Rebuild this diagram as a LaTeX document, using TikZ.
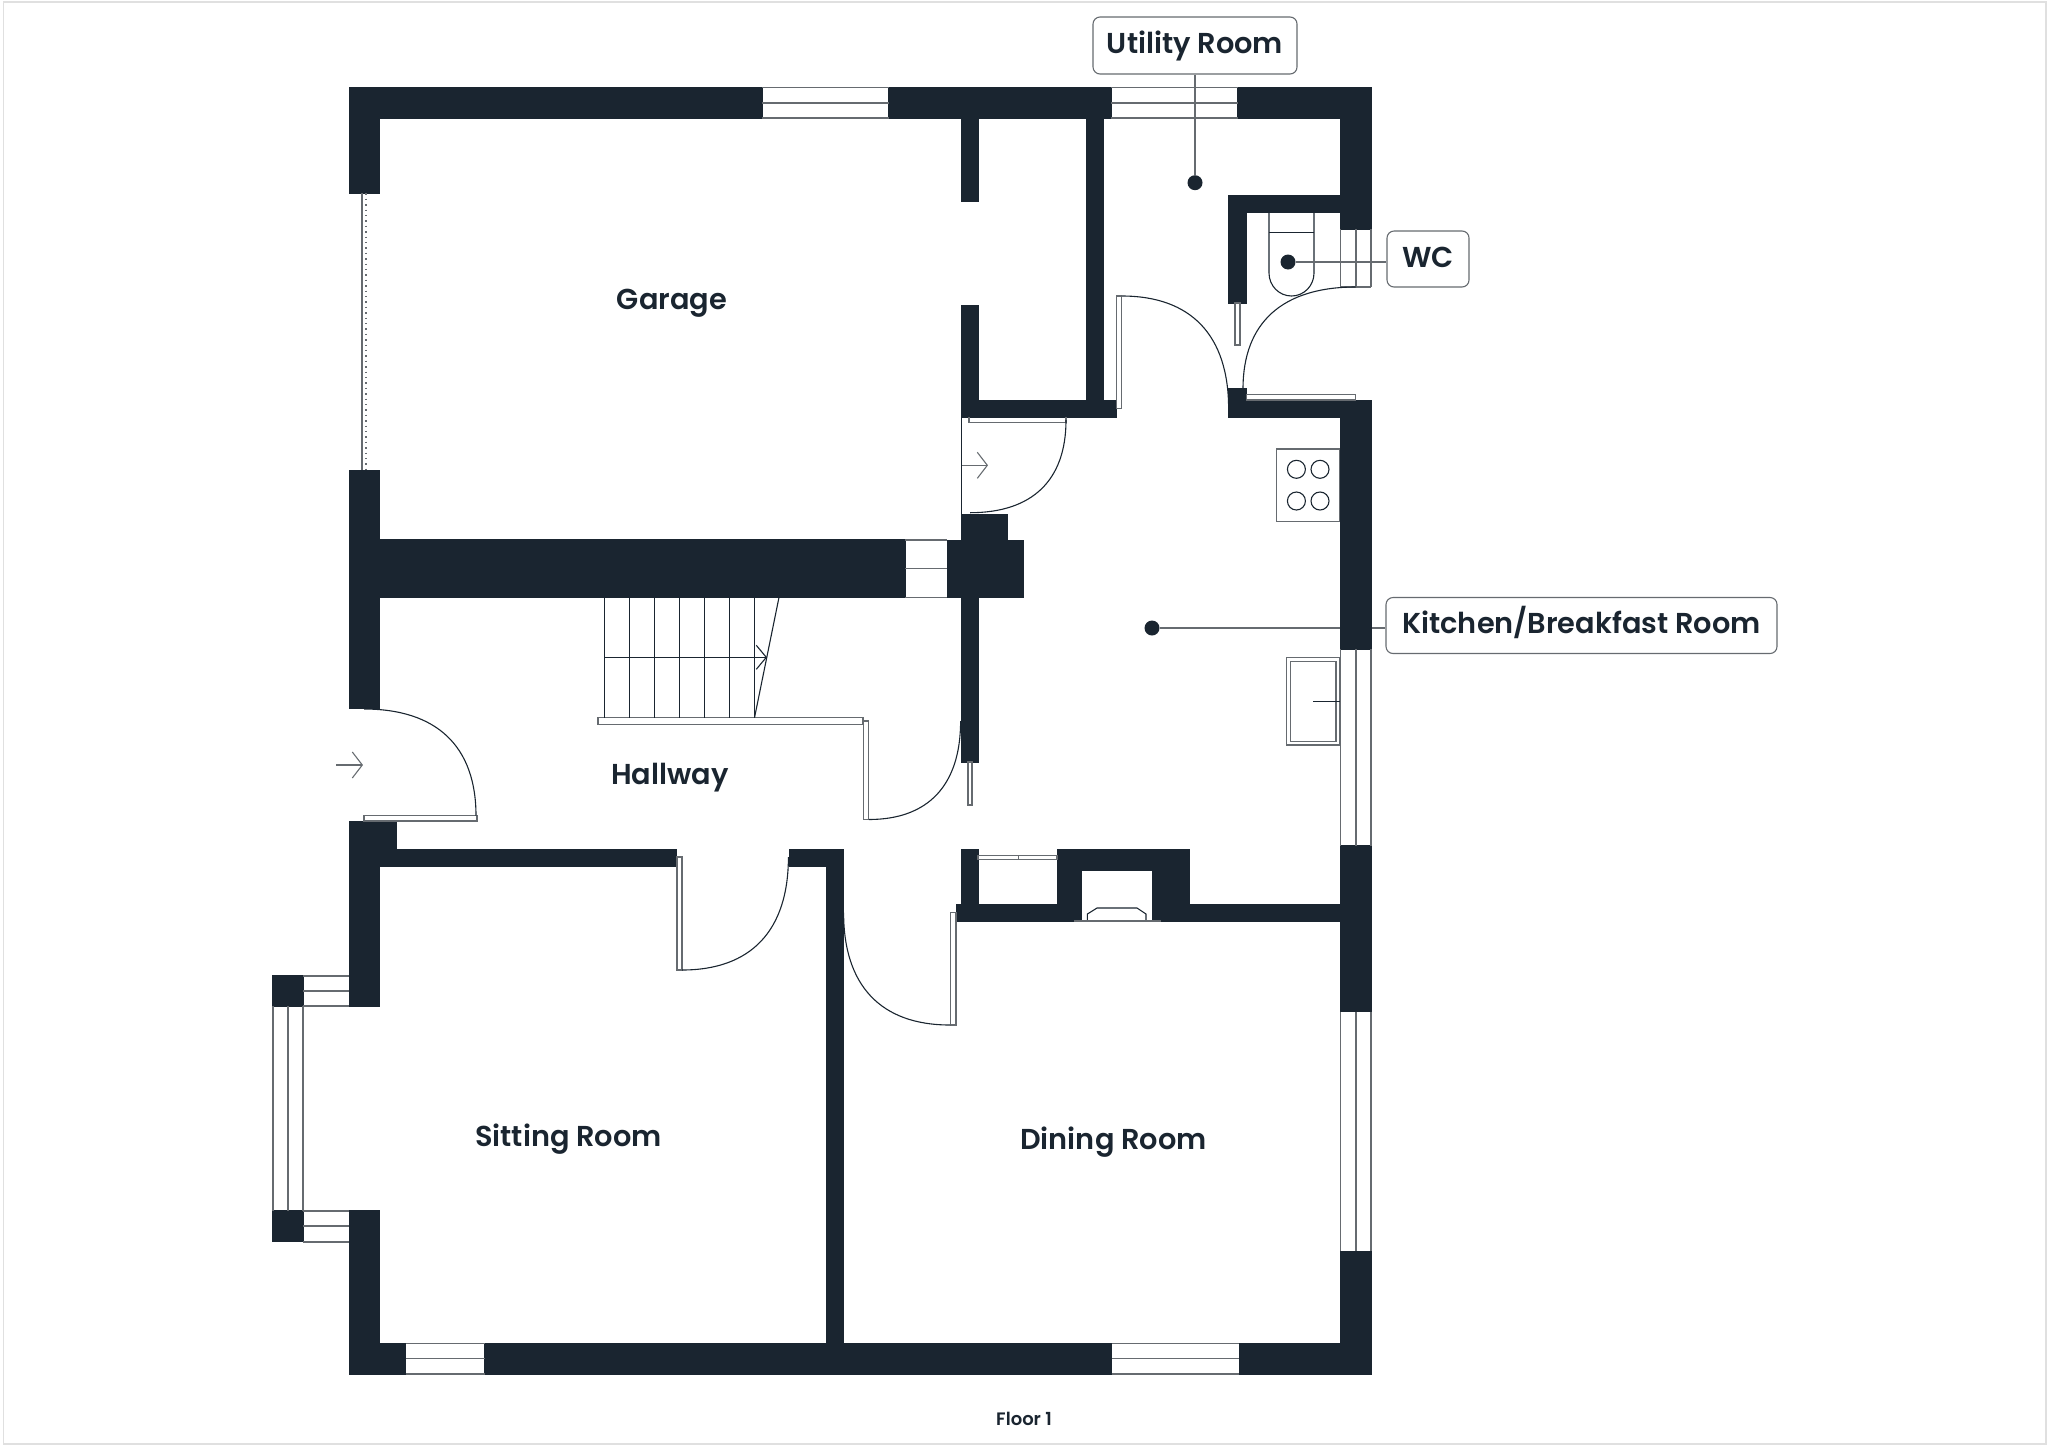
\documentclass[tikz,border=0pt]{standalone}
\usepackage{fontspec}
\usetikzlibrary{arrows.meta,calc}
\setmainfont{Poppins SemiBold}
\definecolor{wallcol}{HTML}{1A2530}
\definecolor{linecol}{HTML}{666B70}
\definecolor{edgecol}{HTML}{E0E0E0}
\newcommand{\doorarc}[3]{\draw[darkline] (#1) .. controls ($(#1)!0.65!(#2)$) and ($(#3)!0.65!(#2)$) .. (#3);}
\tikzset{
  thinline/.style={draw=linecol,line width=0.8pt},
  darkline/.style={draw=wallcol,line width=0.55pt},
  roomlabel/.style={text=wallcol,font=\fontsize{14.4}{17}\selectfont,inner sep=0pt},
  calloutbox/.style={draw=linecol,line width=0.55pt,fill=white,rounded corners=3.5pt,
    text=wallcol,font=\fontsize{14.4}{17}\selectfont,inner sep=0pt,text height=11pt,text depth=3pt},
  leaderdot/.style={circle,fill=wallcol,minimum size=7.5pt,inner sep=0pt}
}
\begin{document}
\begin{tikzpicture}[x=0.5pt,y=-0.5pt]
\useasboundingbox (0,0) rectangle (2048,1446);
\draw[edgecol,line width=0.8pt] (3.5,2) rectangle (2046,1444);
% labels and dots
\node[leaderdot] (utilitydot) at (1195,182.7) {};
\node[leaderdot] (wcdot) at (1288,262) {};
\node[leaderdot] (kitchendot) at (1152,628) {};
\node[calloutbox,minimum width=102pt,minimum height=28.5pt] (utilitylabel) at (1195,45.5) {Utility Room};
\node[calloutbox,minimum width=41pt,minimum height=28pt] (wclabel) at (1428,259) {WC};
\node[calloutbox,minimum width=195.5pt,minimum height=28pt] (kitchenlabel) at (1581.5,625.5) {Kitchen/Breakfast Room};
% kitchen leader goes under the wall
\draw[thinline,line width=0.6pt] (kitchendot) -- (kitchendot -| kitchenlabel.west);
% walls
\foreach \xa/\ya/\xb/\yb in {349/87.5/762/118, 888.5/87.5/1111/118, 1237.5/87.5/1371/118,
  349/87.5/379.6/193.3, 349/470/379.6/708.3, 1340/87.5/1371/229.3,
  961.4/118/978/201, 961.4/305.7/978/417, 1086/118/1103.6/417, 961.4/400/1116/417,
  1228.6/195.7/1246.4/303, 1228.6/195.7/1340.4/212.7, 1228.6/388.7/1246.4/417, 1228.6/400/1371/417,
  1340.4/400/1371/649.3, 961.8/514/1007/541, 947/540/1023/597.3, 961.8/597/978/762,
  349/539.7/905/597.3, 349/821.7/396.5/866.3, 349/849/676/866.3, 349/821.7/379.6/1006,
  789/849/843.6/866.3, 826.6/849/843.6/1374, 961/849/978/921, 956/904/1081/921,
  1057/849/1189.7/870.7, 1057/849/1081/921, 1152.4/849/1189.7/921, 1152.4/904/1340.4/921,
  1340.4/845.7/1371/1011.7, 1340.4/1251/1371/1374, 349/1343.3/405.7/1374, 484.5/1343.3/1111.6/1374,
  1239.4/1343.3/1371/1374, 349/1210.7/379.6/1374, 272/975.7/303/1006, 272/1210.7/303/1241.7}
  \filldraw[fill=wallcol,draw=wallcol,line width=0.5pt] (\xa,\ya) rectangle (\xb,\yb);
% windows
\foreach \xa/\xb/\ya/\yb in {762/888.5/87.5/118, 1111/1237.5/87.5/118, 405.7/484.5/1343.3/1374,
  1111.6/1239.4/1343.3/1374, 905/947/539.7/597.3, 303/349/975.7/1006, 303/349/1210.7/1241.7}
  \draw[thinline] (\xa,\ya) -- (\xb,\ya) (\xa,{(\ya+\yb)/2}) -- (\xb,{(\ya+\yb)/2}) (\xa,\yb) -- (\xb,\yb);
\foreach \xa/\xb/\ya/\yb in {1340.4/1371/649.3/845.7, 1340.4/1371/1011.7/1251, 272.7/302.7/1006/1210.7, 1340.4/1371/229.3/287}
  \draw[thinline] (\xa,\ya) -- (\xa,\yb) ({(\xa+\xb)/2},\ya) -- ({(\xa+\xb)/2},\yb) (\xb,\ya) -- (\xb,\yb);
\draw[thinline] (1340.4,287) -- (1371,287);
% garage door
\draw[thinline,line width=0.6pt] (362,193.3) -- (362,470);
\draw[linecol,line width=0.7pt,dotted] (366,193.3) -- (366,470);
% doors
\draw[thinline,line width=0.6pt] (1116.8,296) rectangle (1121.8,408.7);
\doorarc{1121.8,296}{1228.6,296}{1228.6,408.7}
\doorarc{1243,388.7}{1243,287}{1355.7,287}
\draw[thinline,line width=0.6pt] (1246.4,394.7) rectangle (1355.7,400);
\draw[thinline,line width=0.6pt] (1235,303) rectangle (1240,345);
\draw[darkline] (961.8,417) -- (961.8,514);
\draw[thinline,line width=0.6pt] (969,417) -- (969,422.7) -- (1066,422.7) -- (1066,417);
\doorarc{1066,420}{1066,512.7}{970,512.7}
\draw[thinline,line width=0.55pt,->,>={Straight Barb[length=5pt,width=13pt]}] (961.8,465.3) -- (988,465.3);
\draw[thinline,line width=0.6pt] (968,762) rectangle (972,805);
\draw[thinline,line width=0.6pt] (364,815.7) rectangle (477,821);
\doorarc{364,709}{476,709}{476,815.7}
\draw[thinline,line width=0.55pt,->,>={Straight Barb[length=5pt,width=13pt]}] (336,765) -- (363,765);
\draw[thinline,line width=0.6pt] (598,717.7) rectangle (863,724.3);
\draw[thinline,line width=0.6pt] (863.5,721) rectangle (868.8,819.7);
\doorarc{868.8,819.5}{960.6,819.5}{960.6,721}
\draw[thinline,line width=0.6pt] (677,857) rectangle (682,970);
\doorarc{682,970}{788.4,970}{788.4,857}
\draw[thinline,line width=0.6pt] (950.7,912.3) rectangle (956,1025);
\doorarc{843.6,912.7}{843.6,1025}{950,1025}
% stairs
\foreach \x in {604.3,629.4,654.5,679.4,704.3,729.6,754.5}
  \draw[darkline] (\x,597.3) -- (\x,717.7);
\draw[darkline] (779,597.3) -- (754.5,717.7);
\draw[darkline,->,>={Straight Barb[length=5pt,width=12pt]}] (604.3,657.3) -- (767,657.3);
% wc
\draw[darkline] (1269,212.7) -- (1269,273) arc[start angle=180,end angle=0,x radius=22.5,y radius=23] -- (1314,212.7);
\draw[darkline] (1269,232.7) -- (1314,232.7);
% kitchen
\draw[thinline,line width=0.6pt] (1276.8,449) rectangle (1339.6,521.3);
\foreach \x in {1296.4,1320}
  \foreach \y in {469.3,501}
    \draw[darkline] (\x,\y) circle (9);
\draw[thinline,line width=0.6pt] (1286.8,657.7) rectangle (1339.6,745);
\draw[thinline,line width=0.6pt] (1290.7,661.7) rectangle (1336,741.3);
\draw[darkline] (1313,701.3) -- (1340.4,701.3);
% cupboard and fireplace
\draw[thinline,line width=0.6pt] (978,855.3) rectangle (1057,859.3);
\draw[thinline,line width=0.6pt] (1018.6,855.3) -- (1018.6,859.3);
\draw[darkline] (1087.4,920.7) -- (1087.4,914) -- (1097,908) -- (1137,908) -- (1146,914) -- (1146,920.7);
\draw[thinline,line width=0.6pt] (1074,921) -- (1161,921);
% leaders on top
\draw[thinline,line width=0.6pt] (utilitylabel) -- (utilitydot);
\draw[thinline,line width=0.6pt] (wcdot) -- (wcdot -| wclabel.west);
% room names
\node[roomlabel] (garage) at (672,303) {Garage};
\node[roomlabel] (hallway) at (670,778) {Hallway};
\node[roomlabel] (sitting) at (568.5,1139) {Sitting Room};
\node[roomlabel] (dining) at (1113.5,1142) {Dining Room};
\node[text=wallcol,font=\fontsize{9}{11}\selectfont,inner sep=0pt] (floor) at (1024,1419) {Floor 1};
\end{tikzpicture}
\end{document}
